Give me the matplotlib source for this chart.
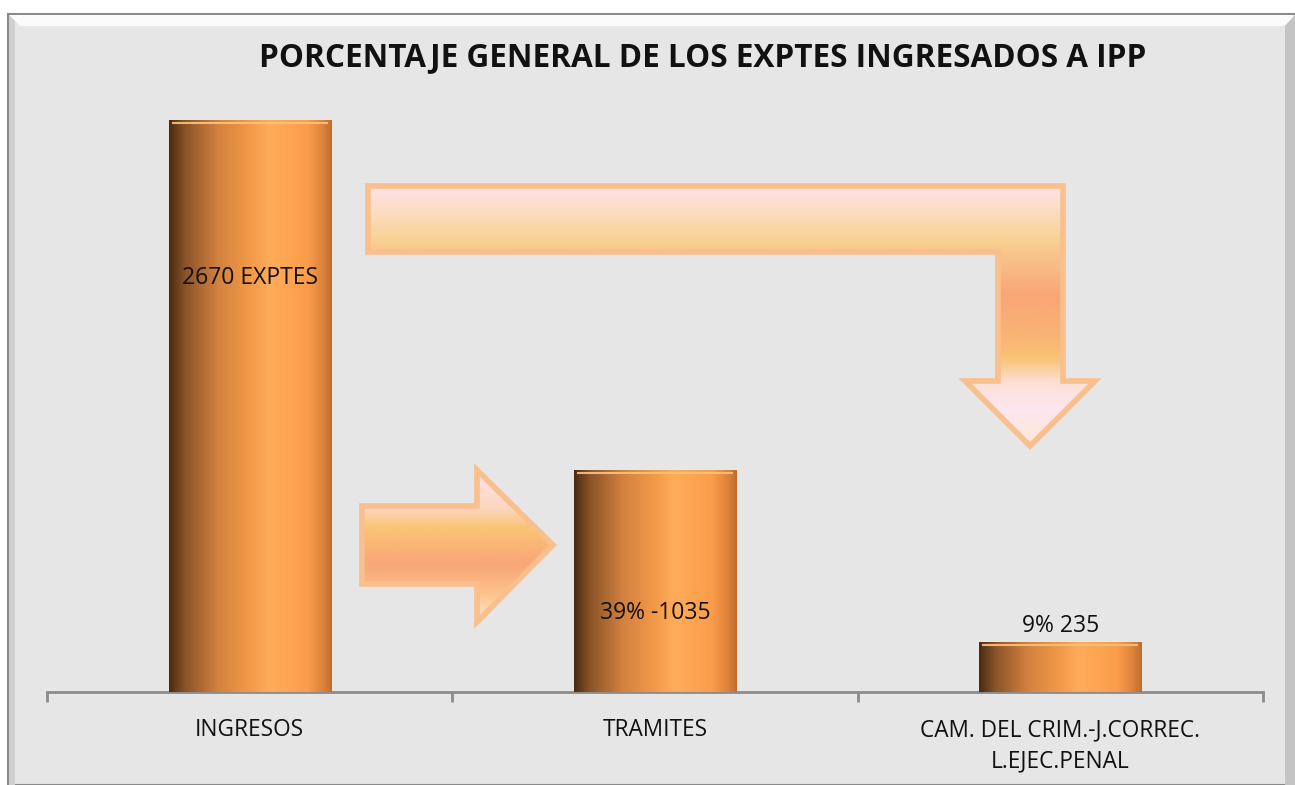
import matplotlib.pyplot as plt
import numpy as np
from matplotlib.colors import LinearSegmentedColormap
from matplotlib.patches import Polygon, Rectangle

plt.rcParams['font.family'] = ['Open Sans', 'DejaVu Sans']

categories = ["INGRESOS", "TRAMITES", "CAM. DEL CRIM.-J.CORREC.\nL.EJEC.PENAL"]
values = [2670, 1035, 235]
labels = ["2670 EXPTES", "39% -1035", "9% 235"]
title = "PORCENTAJE GENERAL DE LOS EXPTES INGRESADOS A IPP"

W, H = 1295, 785
fig = plt.figure(figsize=(W / 100, H / 100), dpi=100)
fig.patch.set_facecolor("white")

# decoration layer in pixel coordinates (frame + arrows)
deco = fig.add_axes([0, 0, 1, 1], zorder=0)
deco.set_xlim(0, W)
deco.set_ylim(H, 0)
deco.axis("off")

deco.add_patch(Rectangle((8, 14), W - 8, H - 14, facecolor="#e6e6e6",
                         edgecolor="#8a8a8a", lw=1.5))
# bevel
deco.add_patch(Polygon([(9, 15), (W, 15), (W - 10, 26), (20, 26)],
                       closed=True, facecolor="#fbfbfb", edgecolor="none"))
deco.add_patch(Polygon([(9, 15), (15, 21), (15, H), (9, H)],
                       closed=True, facecolor="#cfcfcf", edgecolor="none"))
deco.add_patch(Polygon([(W - 10, 26), (W, 15), (W, H), (W - 10, H)],
                       closed=True, facecolor="#c4c4c4", edgecolor="none"))


def grad_arrow(points, stops):
    xs = [p[0] for p in points]
    ys = [p[1] for p in points]
    cmap = LinearSegmentedColormap.from_list("g", stops)
    img = np.linspace(0, 1, 256).reshape(-1, 1)
    poly = Polygon(points, closed=True, facecolor="none", edgecolor="#f9bf8c",
                   lw=4, joinstyle="miter")
    deco.add_patch(poly)
    im = deco.imshow(img, cmap=cmap, aspect="auto", interpolation="bilinear",
                     extent=(min(xs), max(xs), max(ys), min(ys)), zorder=1)
    im.set_clip_path(poly)
    poly.set_zorder(2)


# right arrow between INGRESOS and TRAMITES
grad_arrow([(362, 506), (477, 506), (477, 470), (553, 545), (477, 622),
            (477, 584), (362, 584)],
           [(0.0, "#fde4ea"), (0.25, "#fdd6c0"), (0.38, "#f9c474"),
            (0.62, "#f9a678"), (0.8, "#fcc088"), (0.92, "#fcd8b0"),
            (1.0, "#fde4d8")])

# bent arrow towards third category
grad_arrow([(368, 186), (1063, 186), (1063, 381), (1095, 381), (1030, 446),
            (965, 381), (998, 381), (998, 252), (368, 252)],
           [(0.0, "#fde2e6"), (0.1, "#fcdcc0"), (0.2, "#f9d294"),
            (0.28, "#f9c08a"), (0.42, "#f9a676"), (0.58, "#f9b474"),
            (0.66, "#f9c374"), (0.76, "#fde0d8"), (0.86, "#fde6f0"),
            (1.0, "#fde8d4")])

# main chart
ax = fig.add_axes([47 / W, 93 / H, 1216 / W, 592 / H], zorder=1)
ax.patch.set_alpha(0)
x = np.arange(len(categories))
bars = ax.bar(x, values, width=0.4, color="#f39a49", zorder=2)

bar_cmap = LinearSegmentedColormap.from_list(
    "cyl", [(0.0, "#4a2c12"), (0.1, "#8a5428"), (0.3, "#d3813f"),
            (0.5, "#f39a49"), (0.62, "#ffac5a"), (0.85, "#fb9d4b"),
            (0.95, "#dc8139"), (1.0, "#bd6d30")])
grad = np.linspace(0, 1, 256).reshape(1, -1)
for b in bars:
    x0, y0 = b.get_x(), b.get_y()
    im = ax.imshow(grad, cmap=bar_cmap, aspect="auto", interpolation="bilinear",
                   extent=(x0, x0 + b.get_width(), y0, y0 + b.get_height()),
                   zorder=3)
    im.set_clip_path(b)
    # light rim at top
    ax.plot([x0 + 0.01, x0 + b.get_width() - 0.01],
            [b.get_height() - 14, b.get_height() - 14],
            color="#ffc47a", lw=1.5, alpha=0.9, zorder=4)
ax.set_ylim(0, 592 / (572 / 2670))
ax.set_xlim(-0.5, len(categories) - 0.5)

ax.text(x[0], values[0] * 0.724, labels[0], ha="center", va="center",
        fontsize=16.5, color="#111111", zorder=5)
ax.text(x[1], values[1] * 0.355, labels[1], ha="center", va="center",
        fontsize=16.5, color="#111111", zorder=5)
ax.text(x[2], values[2] + 72, labels[2], ha="center", va="center",
        fontsize=16.5, color="#111111", zorder=5)

for s in ["top", "right", "left"]:
    ax.spines[s].set_visible(False)
ax.spines["bottom"].set_color("#8c8c8c")
ax.spines["bottom"].set_linewidth(2)
ax.set_yticks([])
ax.set_xticks(x)
ax.set_xticklabels(categories, fontsize=16.3, color="#111111", linespacing=1.38)
ax.tick_params(axis="x", which="major", length=0, pad=19)
ax.set_xticks(np.arange(-0.5, len(categories)), minor=True)
ax.tick_params(axis="x", which="minor", length=7, width=2, color="#8c8c8c")

fig.text(703 / W, 1 - 58 / H, title, ha="center", va="center",
         fontsize=22.7, fontweight="bold", color="#111111")

fig.savefig("out.png", dpi=100)
